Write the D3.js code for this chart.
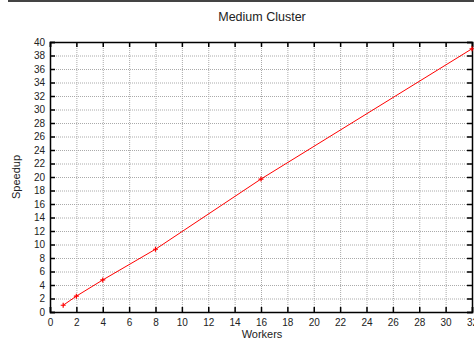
<!DOCTYPE html>
<html>
<head>
<meta charset="utf-8">
<script src="https://cdn.jsdelivr.net/npm/d3@7"></script>
<style>
  body { margin: 0; background: #fff; }
  text { font-family: "Liberation Sans", Arial, sans-serif; fill: #222; }
</style>
</head>
<body>
<div id="chart"></div>
<script>
var workers = [1, 2, 4, 8, 16, 32];
var speedup = [1.0, 2.35, 4.75, 9.3, 19.7, 39.0];
var xTicks = d3.range(0, 33, 2);
var yTicks = d3.range(0, 41, 2);

var W = 474, H = 339;
var m = { left: 50, right: 2, top: 42, bottom: 27 };

var svg = d3.select('#chart').append('svg').attr('width', W).attr('height', H);

// dark strip across the top of the picture
svg.append('rect').attr('x', 8).attr('y', 0).attr('width', W - 8).attr('height', 2).attr('fill', '#444');

var x = d3.scaleLinear().domain([0, 32]).range([m.left, W - m.right]);
var y = d3.scaleLinear().domain([0, 40]).range([H - m.bottom, m.top]);

// grid
var grid = svg.append('g').attr('stroke', '#aaa').attr('stroke-width', 1).attr('stroke-dasharray', '1,1');
grid.selectAll('.gx').data(xTicks.slice(1, -1)).enter().append('line')
  .attr('x1', d => x(d) + 0.5).attr('x2', d => x(d) + 0.5)
  .attr('y1', y(40)).attr('y2', y(0));
grid.selectAll('.gy').data(yTicks.slice(1, -1)).enter().append('line')
  .attr('y1', d => y(d) + 0.5).attr('y2', d => y(d) + 0.5)
  .attr('x1', x(0)).attr('x2', x(32));

// axes, ticks pointing inwards and mirrored
var fmt = d3.format('d');
var axBottom = svg.append('g').attr('transform', 'translate(0,' + y(0) + ')')
  .call(d3.axisBottom(x).tickValues(xTicks).tickSize(-5).tickPadding(7).tickFormat(fmt));
var axTop = svg.append('g').attr('transform', 'translate(0,' + y(40) + ')')
  .call(d3.axisTop(x).tickValues(xTicks).tickSize(-5).tickFormat(''));
var axLeft = svg.append('g').attr('transform', 'translate(' + x(0) + ',0)')
  .call(d3.axisLeft(y).tickValues(yTicks).tickSize(-5).tickPadding(5).tickFormat(fmt));
var axRight = svg.append('g').attr('transform', 'translate(' + x(32) + ',0)')
  .call(d3.axisRight(y).tickValues(yTicks).tickSize(-5).tickFormat(''));

[axBottom, axTop, axLeft, axRight].forEach(function (g) {
  g.select('.domain').attr('stroke', '#000').attr('stroke-width', 1.5);
  g.selectAll('.tick line').attr('stroke', '#000').attr('stroke-width', 1.5);
  g.selectAll('.tick text').attr('font-size', 10).attr('fill', '#222')
    .attr('font-family', '"Liberation Sans", Arial, sans-serif');
});

// line
var pts = workers.map((w, i) => [w, speedup[i]]);
svg.append('path').datum(pts)
  .attr('fill', 'none').attr('stroke', '#f00').attr('stroke-width', 1)
  .attr('d', d3.line().x(d => x(d[0])).y(d => y(d[1])));

// "+" markers
svg.selectAll('.pt').data(pts).enter().append('path')
  .attr('d', d => 'M' + (x(d[0]) - 2.5) + ',' + y(d[1]) + 'h5M' + x(d[0]) + ',' + (y(d[1]) - 2.5) + 'v5')
  .attr('stroke', '#f00').attr('stroke-width', 1.2);

// titles
svg.append('text').attr('x', (x(0) + x(32)) / 2 + 1).attr('y', 21)
  .attr('text-anchor', 'middle').attr('font-size', 12.5).text('Medium Cluster');
svg.append('text').attr('x', (x(0) + x(32)) / 2 + 1).attr('y', 338)
  .attr('text-anchor', 'middle').attr('font-size', 11).text('Workers');
svg.append('text').attr('transform', 'translate(20,' + ((y(0) + y(40)) / 2) + ') rotate(-90)')
  .attr('text-anchor', 'middle').attr('font-size', 11).text('Speedup');
</script>
</body>
</html>
